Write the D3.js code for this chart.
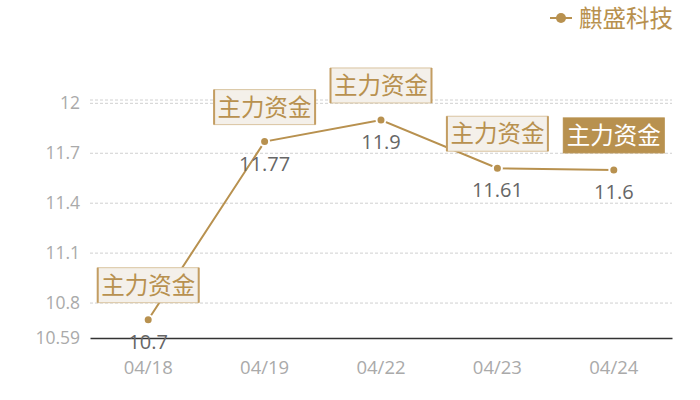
<!DOCTYPE html>
<html>
<head>
<meta charset="utf-8">
<script src="https://cdn.jsdelivr.net/npm/d3@7"></script>
<style>
  body { margin: 0; background: #fff; }
  text { font-family: "Open Sans", "Noto Sans CJK SC", sans-serif; }
  .cjk { font-family: "Noto Sans CJK SC", sans-serif; }
</style>
</head>
<body>
<div class="chart"></div>
<script>
// chart data
var dates = ["04/18", "04/19", "04/22", "04/23", "04/24"];
var prices = [10.7, 11.77, 11.9, 11.61, 11.6];
var notes = ["主力资金", "主力资金", "主力资金", "主力资金", "主力资金"];
var yTicks = [10.59, 10.8, 11.1, 11.4, 11.7, 12];
var yDomain = [10.59, 12.02];
var seriesName = "麒盛科技";

var svgWidth = 700;
var svgHeight = 400;
var margin = { top: 100, right: 28, bottom: 62, left: 90 };
var width = svgWidth - margin.left - margin.right;
var height = svgHeight - margin.top - margin.bottom;

var gold = "#b8914f";

var svg = d3.select(".chart").append("svg")
  .attr("width", svgWidth)
  .attr("height", svgHeight);

var chartGroup = svg.append("g")
  .attr("transform", `translate(${margin.left}, ${margin.top})`);

var xScale = d3.scaleBand().domain(dates).range([0, width]);
var yScale = d3.scaleLinear().domain(yDomain).range([height, 0]);
var cx = d => xScale(d) + xScale.bandwidth() / 2;

// gridlines (ticks plus the top edge)
chartGroup.append("g")
  .selectAll("line")
  .data(yTicks.slice(1).concat([yDomain[1]]))
  .enter().append("line")
  .attr("x1", 0).attr("x2", width)
  .attr("y1", d => yScale(d)).attr("y2", d => yScale(d))
  .attr("stroke", "#d0d0d0")
  .attr("stroke-dasharray", "3,2");

// y axis labels
var leftAxis = d3.axisLeft(yScale).tickValues(yTicks).tickSize(0).tickPadding(10)
  .tickFormat(d => d);
var yAxis = chartGroup.append("g").call(leftAxis);
yAxis.select(".domain").remove();
yAxis.selectAll("text")
  .attr("fill", "#aaa")
  .style("font-size", "17.5px");

// x axis
var bottomAxis = d3.axisBottom(xScale).tickSize(0).tickPadding(23);
var xAxis = chartGroup.append("g")
  .attr("transform", `translate(0, ${height})`)
  .call(bottomAxis);
xAxis.select(".domain").attr("stroke", "#333").attr("stroke-width", 1.5);
xAxis.selectAll("text")
  .attr("fill", "#aaa")
  .style("font-size", "18.5px");

// line
var line = d3.line()
  .x((d, i) => cx(dates[i]))
  .y(d => yScale(d));

chartGroup.append("path")
  .datum(prices)
  .attr("d", line)
  .attr("fill", "none")
  .attr("stroke", gold)
  .attr("stroke-width", 2);

// points
chartGroup.selectAll(".pt")
  .data(prices)
  .enter().append("circle")
  .attr("class", "pt")
  .attr("cx", (d, i) => cx(dates[i]))
  .attr("cy", d => yScale(d))
  .attr("r", 4.5)
  .attr("fill", gold)
  .attr("stroke", "#fff")
  .attr("stroke-width", 2);

// value labels
chartGroup.selectAll(".val")
  .data(prices)
  .enter().append("text")
  .attr("class", "val")
  .attr("x", (d, i) => cx(dates[i]))
  .attr("y", d => yScale(d) + 29)
  .attr("text-anchor", "middle")
  .attr("fill", "#666")
  .style("font-size", "20px")
  .text(d => d);

// annotation boxes
var boxW = 101, boxH = 35;
var notesGroup = chartGroup.selectAll(".note")
  .data(prices)
  .enter().append("g")
  .attr("class", "note")
  .attr("transform", (d, i) => `translate(${cx(dates[i]) - boxW / 2}, ${yScale(d) - 17 - boxH})`);

notesGroup.append("rect")
  .attr("width", boxW).attr("height", boxH)
  .attr("fill", (d, i) => i === prices.length - 1 ? gold : "#f4f0ea")
  .attr("stroke", (d, i) => i === prices.length - 1 ? gold : "#d9c4a0")
  .attr("stroke-width", 1);

notesGroup.filter((d, i) => i !== prices.length - 1)
  .selectAll(".edge")
  .data([0, boxW])
  .enter().append("line")
  .attr("x1", d => d).attr("x2", d => d)
  .attr("y1", 0).attr("y2", boxH)
  .attr("stroke", "#c39d62")
  .attr("stroke-width", 2);

notesGroup.append("text")
  .attr("class", "cjk")
  .attr("x", boxW / 2)
  .attr("y", boxH / 2 + 8.5)
  .attr("text-anchor", "middle")
  .attr("fill", (d, i) => i === prices.length - 1 ? "#fff" : gold)
  .style("font-size", "23.5px")
  .text((d, i) => notes[i]);

// legend
var legend = svg.append("g").attr("transform", "translate(550, 18)");
legend.append("line")
  .attr("x1", 0).attr("x2", 22)
  .attr("stroke", gold).attr("stroke-width", 2);
legend.append("circle")
  .attr("cx", 11).attr("r", 5)
  .attr("fill", gold);
legend.append("text")
  .attr("class", "cjk")
  .attr("x", 29).attr("y", 8.5)
  .attr("fill", gold)
  .style("font-size", "23.5px")
  .text(seriesName);
</script>
</body>
</html>
